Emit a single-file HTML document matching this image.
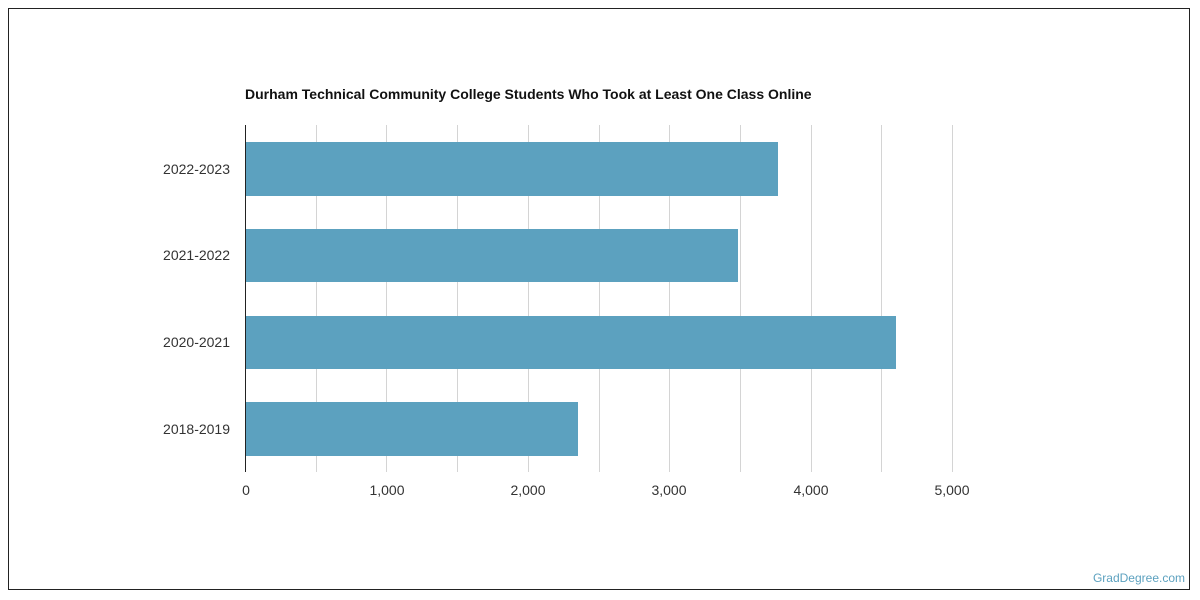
<!DOCTYPE html>
<html><head><meta charset="utf-8"><style>
html,body{margin:0;padding:0;background:#fff;}
svg{display:block;font-family:"Liberation Sans",sans-serif;}
</style></head><body>
<svg width="1200" height="600" viewBox="0 0 1200 600">
<rect x="8.5" y="8.5" width="1181" height="581" fill="#fff" stroke="#222" stroke-width="1"/>
<text x="245" y="99" font-size="14" font-weight="bold" fill="#111">Durham Technical Community College Students Who Took at Least One Class Online</text>
<g stroke="#d4d4d4" stroke-width="1">
<line x1="316.5" y1="125" x2="316.5" y2="472"/>
<line x1="386.5" y1="125" x2="386.5" y2="472"/>
<line x1="457.5" y1="125" x2="457.5" y2="472"/>
<line x1="528.5" y1="125" x2="528.5" y2="472"/>
<line x1="599.5" y1="125" x2="599.5" y2="472"/>
<line x1="669.5" y1="125" x2="669.5" y2="472"/>
<line x1="740.5" y1="125" x2="740.5" y2="472"/>
<line x1="811.5" y1="125" x2="811.5" y2="472"/>
<line x1="881.5" y1="125" x2="881.5" y2="472"/>
<line x1="952.5" y1="125" x2="952.5" y2="472"/>
</g>
<g fill="#5ca1bf">
<rect x="245" y="142" width="533" height="54"/>
<rect x="245" y="229" width="493" height="53"/>
<rect x="245" y="316" width="651" height="53"/>
<rect x="245" y="402" width="333" height="54"/>
</g>
<line x1="245.5" y1="125" x2="245.5" y2="472" stroke="#222" stroke-width="1"/>
<g font-size="14" fill="#333" text-anchor="end">
<text x="230" y="174">2022-2023</text>
<text x="230" y="260">2021-2022</text>
<text x="230" y="347">2020-2021</text>
<text x="230" y="434">2018-2019</text>
</g>
<g font-size="14" fill="#333" text-anchor="middle">
<text x="246" y="495">0</text>
<text x="387" y="495">1,000</text>
<text x="528" y="495">2,000</text>
<text x="669" y="495">3,000</text>
<text x="811" y="495">4,000</text>
<text x="952" y="495">5,000</text>
</g>
<text x="1185" y="582" font-size="12" fill="#5ca1bf" text-anchor="end">GradDegree.com</text>
</svg>
</body></html>
